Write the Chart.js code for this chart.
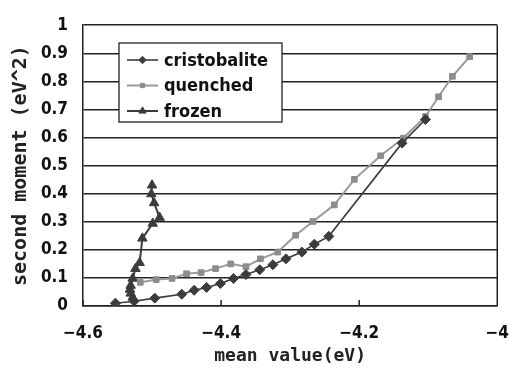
<!DOCTYPE html>
<html>
<head>
<meta charset="utf-8">
<script src="https://cdn.jsdelivr.net/npm/chart.js@4/dist/chart.umd.min.js"></script>
<style>
  html, body { margin: 0; padding: 0; background: #fff; }
  canvas { display: block; }
</style>
</head>
<body>
<canvas id="secondMomentChart" width="526" height="371"></canvas>
<script>
// values
const cristobaliteX = [-4.553, -4.526, -4.496, -4.457, -4.439, -4.421, -4.401, -4.382, -4.364, -4.344, -4.325, -4.306, -4.283, -4.265, -4.244, -4.138, -4.104];
const cristobaliteY = [0.010, 0.017, 0.028, 0.042, 0.056, 0.066, 0.080, 0.098, 0.112, 0.129, 0.147, 0.168, 0.192, 0.220, 0.248, 0.580, 0.664];

const quenchedX = [-4.517, -4.494, -4.471, -4.450, -4.429, -4.408, -4.386, -4.364, -4.343, -4.318, -4.292, -4.267, -4.236, -4.207, -4.169, -4.136, -4.104, -4.085, -4.065, -4.040];
const quenchedY = [0.084, 0.094, 0.098, 0.115, 0.119, 0.133, 0.150, 0.140, 0.168, 0.192, 0.252, 0.301, 0.360, 0.451, 0.535, 0.598, 0.675, 0.745, 0.818, 0.888];

const frozenX = [-4.528, -4.531, -4.532, -4.531, -4.528, -4.524, -4.518, -4.514, -4.499, -4.489, -4.497, -4.501, -4.500];
const frozenY = [0.031, 0.045, 0.059, 0.073, 0.098, 0.133, 0.154, 0.241, 0.294, 0.315, 0.367, 0.399, 0.430];

const xTicks = [-4.6, -4.4, -4.2, -4];
const yTicks = [0, 0.1, 0.2, 0.3, 0.4, 0.5, 0.6, 0.7, 0.8, 0.9, 1];

const toPoints = (xs, ys) => xs.map((x, i) => ({ x, y: ys[i] }));

const tickFont = { family: "'DejaVu Sans Condensed', 'DejaVu Sans', sans-serif", size: 17, weight: "bold" };
const titleFont = { family: "'DejaVu Sans Mono', monospace", weight: "bold" };

// legend box drawn inside the plot, plus inward x ticks and right frame line
const framePlugin = {
  id: "framePlugin",
  afterDraw(chart) {
    const { ctx, chartArea } = chart;
    const xScale = chart.scales.x;
    ctx.save();
    ctx.strokeStyle = "#222";
    ctx.lineWidth = 1.5;
    ctx.beginPath();
    ctx.moveTo(chartArea.right, chartArea.top);
    ctx.lineTo(chartArea.right, chartArea.bottom);
    xScale.ticks.forEach((t) => {
      const px = xScale.getPixelForValue(t.value);
      ctx.moveTo(px, chartArea.bottom);
      ctx.lineTo(px, chartArea.bottom - 6);
    });
    ctx.stroke();

    // legend
    const box = { x: 119, y: 43, w: 163, h: 79 };
    ctx.fillStyle = "#fff";
    ctx.fillRect(box.x, box.y, box.w, box.h);
    ctx.lineWidth = 1.3;
    ctx.strokeStyle = "#222";
    ctx.strokeRect(box.x, box.y, box.w, box.h);

    ctx.font = "bold 18px 'DejaVu Sans Condensed', 'DejaVu Sans', sans-serif";
    ctx.textBaseline = "middle";
    ctx.textAlign = "left";
    chart.data.datasets.forEach((ds, i) => {
      const y = 60 + i * 25.5;
      ctx.strokeStyle = ds.borderColor;
      ctx.lineWidth = ds.borderWidth;
      ctx.beginPath();
      ctx.moveTo(127, y);
      ctx.lineTo(158, y);
      ctx.stroke();
      ctx.fillStyle = ds.pointBackgroundColor;
      ctx.strokeStyle = ds.pointBorderColor;
      ctx.lineWidth = 1;
      Chart.helpers.drawPoint(ctx, {
        pointStyle: ds.pointStyle,
        radius: ds.pointRadius * 0.75,
        rotation: 0,
        borderWidth: 1,
      }, 142.5, y);
      ctx.fillStyle = "#111";
      ctx.fillText(ds.label, 164, y + 1);
    });
    ctx.restore();
  },
};

new Chart(document.getElementById("secondMomentChart").getContext("2d"), {
  type: "scatter",
  data: {
    datasets: [
      {
        label: "cristobalite",
        data: toPoints(cristobaliteX, cristobaliteY),
        showLine: true,
        borderColor: "#3c3c3c",
        borderWidth: 1.6,
        pointStyle: "rectRot",
        pointRadius: 5,
        pointBackgroundColor: "#3c3c3c",
        pointBorderColor: "#3c3c3c",
        pointBorderWidth: 1,
      },
      {
        label: "quenched",
        data: toPoints(quenchedX, quenchedY),
        showLine: true,
        borderColor: "#9a9a9a",
        borderWidth: 2,
        pointStyle: "rect",
        pointRadius: 4,
        pointBackgroundColor: "#8c8c8c",
        pointBorderColor: "#8c8c8c",
        pointBorderWidth: 1,
      },
      {
        label: "frozen",
        data: toPoints(frozenX, frozenY),
        showLine: true,
        borderColor: "#3c3c3c",
        borderWidth: 2,
        pointStyle: "triangle",
        pointRadius: 5.5,
        pointBackgroundColor: "#3c3c3c",
        pointBorderColor: "#3c3c3c",
        pointBorderWidth: 1,
      },
    ],
  },
  options: {
    responsive: false,
    animation: false,
    layout: { padding: { left: 0, right: 11, top: 20, bottom: 0 } },
    plugins: {
      legend: { display: false },
      tooltip: { enabled: false },
    },
    scales: {
      x: {
        type: "linear",
        min: -4.6,
        max: -4,
        afterBuildTicks(scale) {
          scale.ticks = xTicks.map((v) => ({ value: v }));
        },
        afterFit(scale) {
          scale.height = 65;
        },
        grid: { display: false, drawTicks: false },
        border: { display: true, color: "#222", width: 1.5 },
        ticks: {
          color: "#111",
          font: tickFont,
          padding: 17,
          maxRotation: 0,
          callback: (v) => "\u2212" + Math.abs(v).toString(),
        },
        title: {
          display: true,
          text: "mean value(eV)",
          color: "#222",
          font: { ...titleFont, size: 18 },
          padding: { top: 0, bottom: 4 },
        },
      },
      y: {
        type: "linear",
        min: 0,
        max: 1,
        afterBuildTicks(scale) {
          scale.ticks = yTicks.map((v) => ({ value: v }));
        },
        afterFit(scale) {
          scale.width = 83;
        },
        grid: { color: "#222", lineWidth: 1.5, drawTicks: false },
        border: { display: true, color: "#222", width: 1.5 },
        ticks: {
          color: "#111",
          font: tickFont,
          padding: 15,
          callback: (v) => String(Math.round(v * 10) / 10),
        },
        title: {
          display: true,
          text: "second moment (eV^2)",
          color: "#222",
          font: { ...titleFont, size: 20 },
          padding: { top: 9, bottom: 0 },
        },
      },
    },
  },
  plugins: [framePlugin],
});
</script>
</body>
</html>
